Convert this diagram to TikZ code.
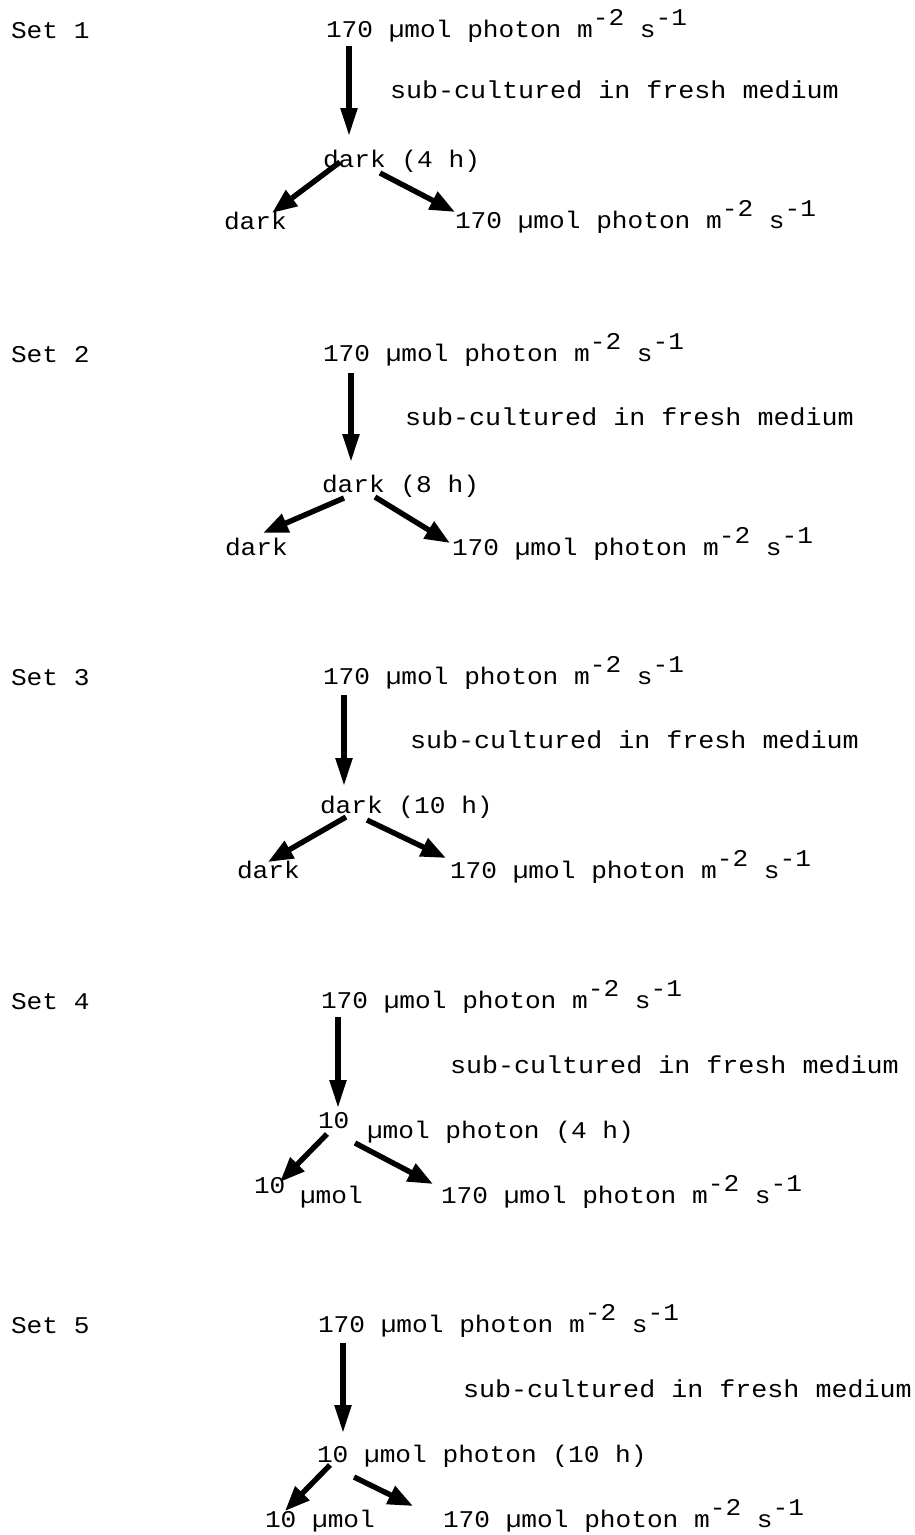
\documentclass[tikz,border=0pt]{standalone}
\usepackage{fontspec}
\newfontfamily\courfont{Liberation Mono}[FakeStretch=1.09]
\usetikzlibrary{arrows.meta}
\newcommand{\rsup}[1]{\raisebox{12pt}{#1}}
\begin{document}
\begin{tikzpicture}[x=1pt,y=-1pt,
  lbl/.style={anchor=base west,inner sep=0pt,outer sep=0pt,font=\courfont\fontsize{24}{28}\selectfont},
  sublbl/.style={lbl,font=\courfont\fontsize{24.5}{28}\selectfont},
  varr/.style={line width=5.2pt,-{Triangle[length=28pt,width=16pt]}},
  darr/.style={line width=5.4pt,-{Triangle[length=25pt,width=19pt]}}]
\fill[white] (0,0) rectangle (914,1535);
\useasboundingbox (0,0) rectangle (914,1535);

% ---------- Set 1 ----------
\node[lbl] (set1) at (11,38) {Set 1};
\node[lbl] (top1) at (326,37) {170 µmol photon m\rsup{-2} s\rsup{-1}};
\node[sublbl] (sub1) at (390,98) {sub-cultured in fresh medium};
\node[lbl] (mid1) at (323,167) {dark (4 h)};
\node[lbl] (bl1) at (224,229) {dark};
\node[lbl] (br1) at (455,228) {170 µmol photon m\rsup{-2} s\rsup{-1}};
\coordinate (v1a) at (349,46);  \coordinate (v1b) at (349,136);
\coordinate (l1a) at (340,162); \coordinate (l1b) at (272,213);
\coordinate (r1a) at (380,173); \coordinate (r1b) at (455,212);
\draw[varr] (v1a) -- (v1b);
\draw[darr] (l1a) -- (l1b);
\draw[darr] (r1a) -- (r1b);

% ---------- Set 2 ----------
\node[lbl] (set2) at (11,362) {Set 2};
\node[lbl] (top2) at (323,361) {170 µmol photon m\rsup{-2} s\rsup{-1}};
\node[sublbl] (sub2) at (405,425) {sub-cultured in fresh medium};
\node[lbl] (mid2) at (322,492) {dark (8 h)};
\node[lbl] (bl2) at (225,555) {dark};
\node[lbl] (br2) at (452,555) {170 µmol photon m\rsup{-2} s\rsup{-1}};
\coordinate (v2a) at (351,373); \coordinate (v2b) at (351,462);
\coordinate (l2a) at (344,498); \coordinate (l2b) at (263,533);
\coordinate (r2a) at (375,497); \coordinate (r2b) at (450,543);
\draw[varr] (v2a) -- (v2b);
\draw[darr] (l2a) -- (l2b);
\draw[darr] (r2a) -- (r2b);

% ---------- Set 3 ----------
\node[lbl] (set3) at (11,685) {Set 3};
\node[lbl] (top3) at (323,684) {170 µmol photon m\rsup{-2} s\rsup{-1}};
\node[sublbl] (sub3) at (410,748) {sub-cultured in fresh medium};
\node[lbl] (mid3) at (320,813) {dark (10 h)};
\node[lbl] (bl3) at (237,878) {dark};
\node[lbl] (br3) at (450,878) {170 µmol photon m\rsup{-2} s\rsup{-1}};
\coordinate (v3a) at (344,695); \coordinate (v3b) at (344,786);
\coordinate (l3a) at (346,817); \coordinate (l3b) at (268,862);
\coordinate (r3a) at (367,820); \coordinate (r3b) at (446,858);
\draw[varr] (v3a) -- (v3b);
\draw[darr] (l3a) -- (l3b);
\draw[darr] (r3a) -- (r3b);

% ---------- Set 4 ----------
\node[lbl] (set4) at (11,1009) {Set 4};
\node[lbl] (top4) at (321,1008) {170 µmol photon m\rsup{-2} s\rsup{-1}};
\node[sublbl] (sub4) at (450,1073) {sub-cultured in fresh medium};
\node[lbl] (mid4a) at (318,1128) {10};
\node[lbl] (mid4b) at (367,1138) {µmol photon (4 h)};
\node[lbl] (bl4a) at (254,1193) {10};
\node[lbl] (bl4b) at (300,1203) {µmol};
\node[lbl] (br4) at (441,1203) {170 µmol photon m\rsup{-2} s\rsup{-1}};
\coordinate (v4a) at (338,1017); \coordinate (v4b) at (338,1108);
\coordinate (l4a) at (327,1134); \coordinate (l4b) at (280,1182);
\coordinate (r4a) at (355,1143); \coordinate (r4b) at (433,1184);
\draw[varr] (v4a) -- (v4b);
\draw[darr] (l4a) -- (l4b);
\draw[darr] (r4a) -- (r4b);

% ---------- Set 5 ----------
\node[lbl] (set5) at (11,1333) {Set 5};
\node[lbl] (top5) at (318,1332) {170 µmol photon m\rsup{-2} s\rsup{-1}};
\node[sublbl] (sub5) at (463,1397) {sub-cultured in fresh medium};
\node[lbl] (mid5) at (317,1462) {10 µmol photon (10 h)};
\node[lbl] (bl5) at (265,1527) {10 µmol};
\node[lbl] (br5) at (443,1527) {170 µmol photon m\rsup{-2} s\rsup{-1}};
\coordinate (v5a) at (343,1343); \coordinate (v5b) at (343,1433);
\coordinate (l5a) at (330,1465); \coordinate (l5b) at (285,1511);
\coordinate (r5a) at (354,1477); \coordinate (r5b) at (413,1506);
\draw[varr] (v5a) -- (v5b);
\draw[darr] (l5a) -- (l5b);
\draw[darr] (r5a) -- (r5b);
\end{tikzpicture}
\end{document}
